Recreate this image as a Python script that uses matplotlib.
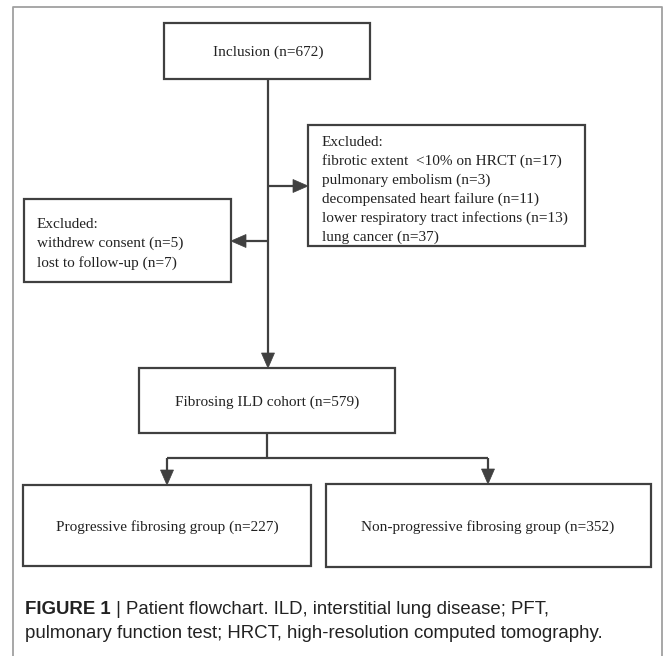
import matplotlib
matplotlib.use('Agg')
import matplotlib.pyplot as plt
from matplotlib.patches import Rectangle, Polygon

# flowchart content
top_label = 'Inclusion'
top_n = 672
excl_right_title = 'Excluded:'
excl_right_items = ['fibrotic extent  <10% on HRCT', 'pulmonary embolism',
                    'decompensated heart failure', 'lower respiratory tract infections',
                    'lung cancer']
excl_right_n = [17, 3, 11, 13, 37]
excl_left_title = 'Excluded:'
excl_left_items = ['withdrew consent', 'lost to follow-up']
excl_left_n = [5, 7]
cohort_label = 'Fibrosing ILD cohort'
cohort_n = 579
group_labels = ['Progressive fibrosing group', 'Non-progressive fibrosing group']
group_n = [227, 352]
caption_bold = 'FIGURE 1'
caption_rest = [' | Patient flowchart. ILD, interstitial lung disease; PFT,',
                'pulmonary function test; HRCT, high-resolution computed tomography.']

W, H = 663, 656
BOX_C = '#404040'
TXT_C = '#222222'
SERIF = ['Liberation Serif', 'DejaVu Serif']
SANS = ['Liberation Sans', 'DejaVu Sans']
FS = 11
CFS = 13.4

fig = plt.figure(figsize=(W / 100, H / 100), dpi=100)
ax = fig.add_axes([0, 0, 1, 1])
ax.set_xlim(0, W)
ax.set_ylim(H, 0)
ax.axis('off')


def box(x0, y0, x1, y1):
    ax.add_patch(Rectangle((x0, y0), x1 - x0, y1 - y0, fill=False,
                           ec=BOX_C, lw=1.6, zorder=2))


def line(xs, ys):
    ax.plot(xs, ys, color=BOX_C, lw=1.6, solid_capstyle='butt', zorder=2)


def head(x, y, d, L=15, hw=6.5):
    # tip at (x, y), d is the direction the arrow points to
    if d == 'down':
        pts = [(x, y), (x - hw, y - L), (x + hw, y - L)]
    elif d == 'right':
        pts = [(x, y), (x - L, y - hw), (x - L, y + hw)]
    else:
        pts = [(x, y), (x + L, y - hw), (x + L, y + hw)]
    ax.add_patch(Polygon(pts, closed=True, fc=BOX_C, ec=BOX_C, lw=0.5, zorder=3))


# outer light frame
ax.plot([12.5, 12.5, 662, 662], [H + 5, 6.5, 6.5, H + 5], color='#a0a0a0', lw=1.3)

# inclusion
box(164, 23, 370, 79)
ax.text(268, 52, f'{top_label} (n={top_n})', ha='center', va='center',
        family=SERIF, fontsize=FS, color=TXT_C)

# main trunk
line([268, 268], [79, 354])
head(268, 368, 'down')

# right exclusion
line([268, 294], [186, 186])
head(308, 186, 'right')
box(308, 125, 585, 246)
rlines = [excl_right_title] + [f'{a} (n={b})' for a, b in zip(excl_right_items, excl_right_n)]
for i, s in enumerate(rlines):
    ax.text(322, 142 + i * 19, s, ha='left', va='center', family=SERIF,
            fontsize=FS, color=TXT_C)

# left exclusion
line([268, 245], [241, 241])
head(231, 241, 'left')
box(24, 199, 231, 282)
llines = [excl_left_title] + [f'{a} (n={b})' for a, b in zip(excl_left_items, excl_left_n)]
for i, s in enumerate(llines):
    ax.text(37, 224 + i * 19.5, s, ha='left', va='center', family=SERIF,
            fontsize=FS, color=TXT_C)

# cohort
box(139, 368, 395, 433)
ax.text(267, 402, f'{cohort_label} (n={cohort_n})', ha='center', va='center',
        family=SERIF, fontsize=FS, color=TXT_C)

# split
line([267, 267], [433, 458])
line([167, 488], [458, 458])
line([167, 167], [458, 471])
line([488, 488], [458, 470])
head(167, 485, 'down')
head(488, 484, 'down')

# groups
box(23, 485, 311, 566)
box(326, 484, 651, 567)
for cx, lab, n in zip([167, 488], group_labels, group_n):
    ax.text(cx, 527, f'{lab} (n={n})', ha='center', va='center',
            family=SERIF, fontsize=FS, color=TXT_C)

# caption
r = fig.canvas.get_renderer()
t = ax.text(25, 610, caption_bold, ha='left', va='center', family=SANS,
            fontsize=CFS, fontweight='bold', color=TXT_C)
bb = t.get_window_extent(renderer=r)
x_after = ax.transData.inverted().transform((bb.x1, 0))[0]
ax.text(x_after, 610, caption_rest[0], ha='left', va='center', family=SANS,
        fontsize=CFS, color=TXT_C)
ax.text(25, 633, caption_rest[1], ha='left', va='center', family=SANS,
        fontsize=CFS, color=TXT_C)

fig.savefig('out.png', dpi=100)
